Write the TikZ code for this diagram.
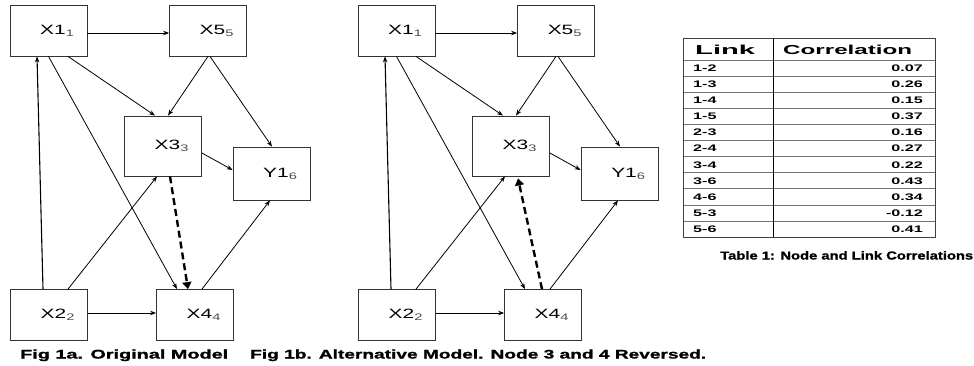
\documentclass[tikz,border=0pt]{standalone}
\usepackage{fontspec}
\setmainfont{Liberation Sans}
\newfontfamily\heavyfont{Liberation Sans Bold}[FakeBold=1.2]
\usepackage{graphicx}
\usetikzlibrary{arrows.meta}
\newcommand\nlab[2]{\hspace*{18pt}\scalebox{1.55}[1]{\fontsize{13.5}{13.5}\selectfont #1\textsubscript{\color{black!70}#2}}}
\newcommand\fitw[3]{\resizebox{#1}{\height}{\fontsize{#2}{#2}\selectfont\bfseries #3}}
\newcommand\fith[3]{\resizebox{#1}{\height}{\fontsize{#2}{#2}\heavyfont #3}}
\begin{document}
\begin{tikzpicture}[x=1pt,y=-1pt,
  box/.style={draw=black!80,line width=0.8pt,minimum width=77pt,minimum height=51pt,inner sep=0pt},
  arr/.style={-{Stealth[length=6pt,width=4.5pt]},line width=0.8pt},
  dasharr/.style={-{Triangle[length=7pt,width=9pt]},line width=2.4pt,dash pattern=on 7pt off 4pt},
  cellt/.style={inner sep=0pt,anchor=base west},
  celln/.style={inner sep=0pt,anchor=base east}]
\useasboundingbox (0,0) rectangle (974,365);
\foreach \p/\dx in {a/0,b/348}{
  \begin{scope}[xshift=\dx pt]
    \node[box] (\p1) at (48.5,30.5) {\nlab{X1}{1}};
    \node[box] (\p5) at (208,30.5) {\nlab{X5}{5}};
    \node[box,minimum height=60pt] (\p3) at (163,146) {\nlab{X3}{3}};
    \node[box,minimum height=53pt] (\p6) at (271.5,173.5) {\nlab{Y1}{6}};
    \node[box] (\p2) at (49,315) {\nlab{X2}{2}};
    \node[box] (\p4) at (195,315) {\nlab{X4}{4}};
  \end{scope}
  \draw[arr] ([yshift=-2.5pt]\p1.east) -- ([yshift=-2.5pt]\p5.west);
  \draw[arr,line width=1.1pt] ([xshift=-6pt]\p2.north) -- ([xshift=-11.5pt]\p1.south);
  \draw[arr] ([xshift=19.5pt]\p1.south) -- ([xshift=-8pt]\p3.north);
  \draw[arr] (\p1.south) -- ([xshift=-18pt]\p4.north);
  \draw[arr] (\p5.south) -- ([xshift=5pt]\p3.north);
  \draw[arr] ([xshift=2pt]\p5.south) -- ([xshift=0.5pt]\p6.north);
  \draw[arr] ([yshift=-7pt]\p3.east) -- ([yshift=3.5pt]\p6.west);
  \draw[arr] ([xshift=19pt]\p2.north) -- ([xshift=-6pt]\p3.south);
  \draw[arr] ([xshift=7pt]\p4.north) -- ([xshift=-1.5pt]\p6.south);
  \draw[arr] ([yshift=2pt]\p2.east) -- ([yshift=2pt]\p4.west);
}
\draw[dasharr] ([xshift=7pt]a3.south) -- ([xshift=-7pt]a4.north);
\draw[dasharr] ([xshift=-1pt]b4.north) -- ([xshift=7pt,yshift=-2pt]b3.south);
% table
\foreach \k in {0,...,10}{
  \draw[black!55,line width=0.8pt] (683,60+16.1*\k) -- (935,60+16.1*\k);
}
\draw[black!75,line width=0.9pt] (683,38) rectangle (935,237);
\draw[black,line width=0.9pt] (773,38) -- (773,237);
\node[cellt] (hlink) at (695,54) {\fitw{60pt}{13}{Link}};
\node[cellt] (hcorr) at (783,54) {\fitw{129pt}{13}{Correlation}};
\foreach \l/\v [count=\i] in {1-2/0.07,1-3/0.26,1-4/0.15,1-5/0.37,2-3/0.16,2-4/0.27,3-4/0.22,3-6/0.43,4-6/0.34,5-3/-0.12,5-6/0.41}{
  \node[cellt] (l\i) at (693,60+16.1*\i-16.1*0.5+3.4) {\scalebox{1.7}[1]{\fontsize{9.5}{9.5}\selectfont\bfseries \l}};
  \node[celln] (v\i) at (923,60+16.1*\i-16.1*0.5+3.4) {\scalebox{1.7}[1]{\fontsize{9.5}{9.5}\selectfont\bfseries \v}};
}
\node[cellt] (tcap) at (720,259.5) {\fith{253pt}{11.5}{Table 1: Node and Link Correlations}};
\node[cellt] (capa) at (20,358.5) {\fith{208pt}{12.5}{Fig 1a. Original Model}};
\node[cellt] (capb) at (250,358.5) {\fith{456pt}{12.5}{Fig 1b. Alternative Model. Node 3 and 4 Reversed.}};
\end{tikzpicture}
\end{document}
